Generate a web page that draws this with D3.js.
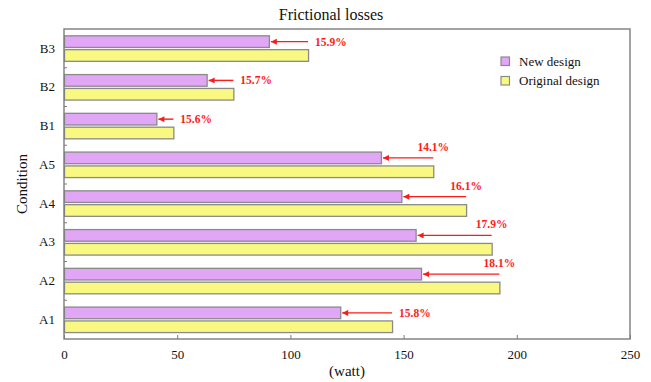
<!DOCTYPE html>
<html>
<head>
<meta charset="utf-8">
<script src="https://cdn.jsdelivr.net/npm/d3@7/dist/d3.min.js"></script>
<style>
  html, body { margin: 0; padding: 0; background: #fff; }
  svg { display: block; }
  text { font-family: "Liberation Serif", "Times New Roman", serif; }
</style>
</head>
<body>
<svg id="chart" width="651" height="382"></svg>
<script>
// Frictional losses per operating condition (watt)
const conditions = ["B3", "B2", "B1", "A5", "A4", "A3", "A2", "A1"];
const newDesign = [90.5, 63.0, 40.8, 140.0, 149.0, 155.3, 157.7, 122.0];
const originalDesign = [107.8, 74.8, 48.3, 163.1, 177.6, 188.9, 192.3, 144.9];
const reductionLabels = ["15.9%", "15.7%", "15.6%", "14.1%", "16.1%", "17.9%", "18.1%", "15.8%"];
// where each reduction label sits relative to its arrow
const labelPlacement = ["side", "side", "side", "above", "above", "above", "above", "side"];
const seriesNames = ["New design", "Original design"];
const xTicks = [0, 50, 100, 150, 200, 250];

const colors = { "New design": "#e2a6f7", "Original design": "#f9f982" };
const barStroke = "#8a8a8a";
const red = "#ff1a1a";

const svg = d3.select("#chart");
const margin = { left: 64, right: 21, top: 29, bottom: 43 };
const W = 651, H = 382;
const plotW = W - margin.left - margin.right;
const plotH = H - margin.top - margin.bottom;

const x = d3.scaleLinear().domain([0, 250]).range([0, plotW]);
const y = d3.scaleBand().domain(conditions).range([0, plotH]).padding(0);
const bw = y.bandwidth();
const pairH = 25.5;
const sub = d3.scaleBand().domain(seriesNames).range([0, pairH]).paddingInner(0.16);
const pairOffset = (bw - pairH) / 2 + 0.2;

const g = svg.append("g").attr("transform", `translate(${margin.left},${margin.top})`);

// arrowhead marker, tip at the end of the line
svg.append("defs").append("marker")
  .attr("id", "arrowhead")
  .attr("viewBox", "0 0 10 10")
  .attr("refX", 10).attr("refY", 5)
  .attr("markerWidth", 7).attr("markerHeight", 6)
  .attr("markerUnits", "userSpaceOnUse")
  .attr("orient", "auto")
  .append("path").attr("d", "M10,5 L0,0 L0,10 Z").attr("fill", red);

const rows = conditions.map((c, i) => ({
  cond: c,
  values: [
    { series: "New design", value: newDesign[i] },
    { series: "Original design", value: originalDesign[i] }
  ],
  label: reductionLabels[i],
  placement: labelPlacement[i],
  nv: newDesign[i],
  ov: originalDesign[i]
}));

// bars
const groups = g.selectAll("g.cond").data(rows).join("g")
  .attr("class", "cond")
  .attr("transform", d => `translate(0,${y(d.cond) + pairOffset})`);

groups.selectAll("rect").data(d => d.values).join("rect")
  .attr("x", x(0) + 0.5)
  .attr("y", d => sub(d.series))
  .attr("width", d => x(d.value) - x(0))
  .attr("height", sub.bandwidth())
  .attr("fill", d => colors[d.series])
  .attr("stroke", barStroke)
  .attr("stroke-width", 1.3);

// reduction arrows: from original value back to the new value
groups.append("line")
  .attr("x1", d => x(d.ov))
  .attr("x2", d => x(d.nv) + 2)
  .attr("y1", sub("New design") + sub.bandwidth() / 2)
  .attr("y2", sub("New design") + sub.bandwidth() / 2)
  .attr("stroke", red)
  .attr("stroke-width", 1.4)
  .attr("marker-end", "url(#arrowhead)");

groups.append("text")
  .attr("x", d => d.placement === "side" ? x(d.ov) + 7 : x(d.ov))
  .attr("y", d => d.placement === "side"
    ? sub("New design") + sub.bandwidth() / 2 + 4
    : sub("New design") + sub.bandwidth() / 2 - 7)
  .attr("text-anchor", d => d.placement === "side" ? "start" : "middle")
  .attr("font-size", 11.5)
  .attr("font-weight", "bold")
  .attr("fill", red)
  .text(d => d.label);

// frame
g.append("rect")
  .attr("x", 0).attr("y", 0).attr("width", plotW).attr("height", plotH)
  .attr("fill", "none").attr("stroke", "#7d7d7d").attr("stroke-width", 1.4);

// x axis (ticks pointing inward)
const xAxis = g.append("g").attr("transform", `translate(0,${plotH})`)
  .call(d3.axisBottom(x).tickValues(xTicks).tickSizeInner(-4).tickSizeOuter(0).tickPadding(11));
xAxis.select(".domain").remove();
xAxis.selectAll(".tick line").attr("stroke", "#7d7d7d");
xAxis.selectAll(".tick text").attr("font-size", 13).attr("fill", "#111")
  .attr("font-family", "Liberation Serif, serif");

// y axis: category labels, with minor ticks on the band boundaries
const yAxis = g.append("g")
  .call(d3.axisLeft(y).tickSize(0).tickPadding(9));
yAxis.select(".domain").remove();
yAxis.selectAll(".tick text").attr("font-size", 13).attr("fill", "#111")
  .attr("font-family", "Liberation Serif, serif");

g.selectAll("line.minor").data(conditions.slice(1)).join("line")
  .attr("class", "minor")
  .attr("x1", 0).attr("x2", 3)
  .attr("y1", d => y(d)).attr("y2", d => y(d))
  .attr("stroke", "#7d7d7d").attr("stroke-width", 1);

// titles
svg.append("text")
  .attr("x", margin.left + plotW / 2 - 16).attr("y", 20)
  .attr("text-anchor", "middle").attr("font-size", 16).attr("fill", "#111")
  .text("Frictional losses");

svg.append("text")
  .attr("x", margin.left + plotW / 2).attr("y", 376)
  .attr("text-anchor", "middle").attr("font-size", 15).attr("fill", "#111")
  .text("(watt)");

svg.append("text")
  .attr("transform", `translate(27,${margin.top + plotH / 2}) rotate(-90)`)
  .attr("text-anchor", "middle").attr("font-size", 15).attr("fill", "#111")
  .text("Condition");

// legend
const legend = svg.append("g").attr("transform", "translate(501,57)");
const li = legend.selectAll("g").data(seriesNames).join("g")
  .attr("transform", (d, i) => `translate(0,${i * 19.5})`);
li.append("rect")
  .attr("width", 8.5).attr("height", 8.5)
  .attr("fill", d => colors[d]).attr("stroke", barStroke).attr("stroke-width", 1.2);
li.append("text")
  .attr("x", 18).attr("y", 8.5)
  .attr("font-size", 13).attr("fill", "#111")
  .text(d => d);
</script>
</body>
</html>
